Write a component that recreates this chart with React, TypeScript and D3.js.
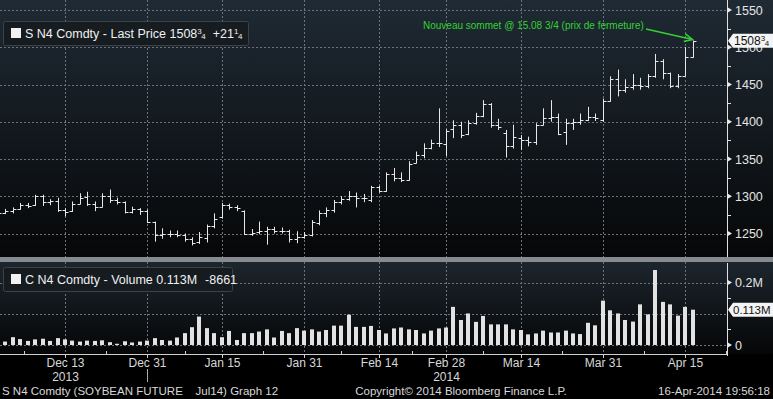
import React, { useRef, useEffect } from "react"
import * as d3 from "d3"

const W = 773
const H = 399

// trading days, Dec 2 2013 -> Apr 16 2014
const dates = [
  "2013-12-02","2013-12-03","2013-12-04","2013-12-05","2013-12-06","2013-12-09","2013-12-10","2013-12-11","2013-12-12","2013-12-13",
  "2013-12-16","2013-12-17","2013-12-18","2013-12-19","2013-12-20","2013-12-23","2013-12-24","2013-12-26","2013-12-27","2013-12-30",
  "2013-12-31","2014-01-02","2014-01-03","2014-01-06","2014-01-07","2014-01-08","2014-01-09","2014-01-10","2014-01-13","2014-01-14",
  "2014-01-15","2014-01-16","2014-01-17","2014-01-21","2014-01-22","2014-01-23","2014-01-24","2014-01-27","2014-01-28","2014-01-29",
  "2014-01-30","2014-01-31","2014-02-03","2014-02-04","2014-02-05","2014-02-06","2014-02-07","2014-02-10","2014-02-11","2014-02-12",
  "2014-02-13","2014-02-14","2014-02-18","2014-02-19","2014-02-20","2014-02-21","2014-02-24","2014-02-25","2014-02-26","2014-02-27",
  "2014-02-28","2014-03-03","2014-03-04","2014-03-05","2014-03-06","2014-03-07","2014-03-10","2014-03-11","2014-03-12","2014-03-13",
  "2014-03-14","2014-03-17","2014-03-18","2014-03-19","2014-03-20","2014-03-21","2014-03-24","2014-03-25","2014-03-26","2014-03-27",
  "2014-03-28","2014-03-31","2014-04-01","2014-04-02","2014-04-03","2014-04-04","2014-04-07","2014-04-08","2014-04-09","2014-04-10",
  "2014-04-11","2014-04-14","2014-04-15","2014-04-16"
]

const open = [
  1281,1278,1280,1283,1288,1288,1300,1292,1294,1281,
  1280,1290,1299,1289,1286,1300,1295,1292,1279,1283,
  1280,1266,1248,1250,1250,1248,1242,1238,1244,1260,
  1272,1288,1285,1280,1250,1252,1254,1256,1254,1253,
  1242,1245,1248,1264,1278,1282,1292,1296,1300,1298,
  1295,1312,1307,1330,1325,1322,1345,1355,1365,1372,
  1370,1390,1396,1384,1398,1408,1424,1396,1385,1368,
  1378,1375,1373,1395,1405,1406,1386,1398,1400,1403,
  1406,1402,1428,1457,1442,1447,1450,1448,1462,1482,
  1465,1448,1462,1487
]
const high = [
  1284,1283,1285,1291,1291,1302,1302,1296,1298,1284,
  1293,1304,1306,1293,1304,1309,1298,1293,1286,1284,
  1282,1266,1257,1254,1254,1250,1245,1252,1262,1277,
  1291,1290,1288,1281,1256,1266,1259,1259,1258,1255,
  1253,1252,1268,1281,1285,1295,1300,1307,1305,1303,
  1314,1314,1332,1338,1332,1347,1360,1371,1376,1418,
  1390,1402,1400,1402,1412,1429,1425,1404,1389,1396,
  1382,1380,1398,1418,1429,1411,1404,1404,1411,1420,
  1411,1431,1461,1470,1457,1464,1459,1464,1491,1484,
  1466,1464,1500,1509
]
const low = [
  1275,1276,1277,1282,1284,1287,1287,1288,1279,1273,
  1279,1289,1287,1280,1285,1291,1289,1277,1277,1275,
  1264,1239,1243,1245,1245,1239,1234,1236,1238,1257,
  1270,1282,1280,1248,1247,1249,1235,1250,1250,1238,
  1237,1243,1246,1261,1272,1278,1289,1294,1285,1292,
  1292,1305,1306,1320,1319,1321,1344,1351,1363,1366,
  1354,1378,1378,1382,1396,1406,1392,1389,1352,1364,
  1362,1367,1369,1395,1400,1382,1369,1389,1396,1401,
  1401,1400,1427,1434,1439,1443,1443,1445,1459,1457,
  1445,1445,1461,1486
]
const close = [
  1278,1280,1283,1288,1287,1300,1292,1294,1281,1279,
  1290,1298,1289,1285,1300,1295,1292,1279,1283,1280,
  1266,1248,1250,1250,1248,1242,1237,1245,1260,1270,
  1288,1285,1284,1250,1251,1254,1256,1254,1253,1242,
  1245,1248,1265,1278,1282,1292,1296,1300,1298,1297,
  1312,1307,1330,1325,1322,1343,1355,1365,1372,1371,
  1388,1396,1382,1398,1408,1424,1396,1393,1368,1380,
  1375,1373,1395,1405,1406,1384,1398,1400,1403,1406,
  1405,1428,1457,1442,1447,1450,1448,1462,1482,1465,
  1448,1462,1487,1508.75
]
// volume, thousands of contracts
const volume = [
  11,11,25,19,13,18,20,13,22,18,
  14,11,14,13,15,9,4,12,8,11,
  14,22,16,14,24,38,57,91,54,38,
  25,45,16,38,38,43,50,24,45,38,
  54,46,50,43,48,62,62,97,58,58,
  61,48,37,53,56,50,48,37,46,53,
  56,122,80,101,74,93,66,66,66,50,
  48,34,37,46,40,40,46,37,35,71,
  63,142,111,101,80,75,130,98,240,138,
  130,94,122,113
]

const priceTicks = [1250, 1300, 1350, 1400, 1450, 1500, 1550]
const priceMinor = [1275, 1325, 1375, 1425, 1475, 1525]
const volTicks = [0, 100, 200]
const volMinor = [50, 150]
const tickDates = ["2013-12-13","2013-12-31","2014-01-15","2014-01-31","2014-02-14","2014-02-28","2014-03-14","2014-03-31","2014-04-15"]
const tickLabels = ["Dec 13","Dec 31","Jan 15","Jan 31","Feb 14","Feb 28","Mar 14","Mar 31","Apr 15"]
const yearLabels = [{ date: "2013-12-13", text: "2013" }, { date: "2014-02-28", text: "2014" }]

const FONT = "'Liberation Sans', Arial, sans-serif"

export default function App() {
  const svgRef = useRef(null)

  useEffect(() => {
    const svg = d3.select(svgRef.current)
    svg.selectAll("*").remove()

    const axisX = 727
    const x = d3.scaleLinear().domain([0, dates.length - 1]).range([-2.2, 692.5])
    const y = d3.scaleLinear().domain([1250, 1550]).range([233.5, 10])
    const yv = d3.scaleLinear().domain([0, 200]).range([345, 282.5])
    const px = (i) => Math.round(x(i)) + 0.5

    const defs = svg.append("defs")
    const g1 = defs.append("linearGradient").attr("id", "pbg").attr("x1", 0).attr("y1", 0).attr("x2", 0).attr("y2", 1)
    g1.append("stop").attr("offset", "0%").attr("stop-color", "#1f2a34")
    g1.append("stop").attr("offset", "100%").attr("stop-color", "#060708")
    const g2 = defs.append("linearGradient").attr("id", "vbg").attr("x1", 0).attr("y1", 0).attr("x2", 0).attr("y2", 1)
    g2.append("stop").attr("offset", "0%").attr("stop-color", "#1d252d")
    g2.append("stop").attr("offset", "100%").attr("stop-color", "#050607")

    svg.append("rect").attr("width", W).attr("height", H).attr("fill", "#000")
    svg.append("rect").attr("x", 0).attr("y", 0).attr("width", W).attr("height", 257).attr("fill", "url(#pbg)")
    svg.append("rect").attr("x", 0).attr("y", 262).attr("width", W).attr("height", 92).attr("fill", "url(#vbg)")
    svg.append("rect").attr("x", 0).attr("y", 257).attr("width", W).attr("height", 5).attr("fill", "#858b91")

    // grid
    const grid = svg.append("g").attr("stroke", "#6c737a").attr("stroke-dasharray", "2,2").attr("stroke-width", 1)
    priceTicks.forEach(t => {
      const yy = Math.round(y(t)) + 0.5
      grid.append("line").attr("x1", 0).attr("x2", axisX).attr("y1", yy).attr("y2", yy)
    })
    volTicks.forEach(t => {
      const yy = Math.round(yv(t)) + 0.5
      grid.append("line").attr("x1", 0).attr("x2", axisX).attr("y1", yy).attr("y2", yy)
    })
    tickDates.forEach(d => {
      const xx = px(dates.indexOf(d))
      grid.append("line").attr("x1", xx).attr("x2", xx).attr("y1", 0).attr("y2", 257)
      grid.append("line").attr("x1", xx).attr("x2", xx).attr("y1", 262).attr("y2", 354)
    })

    // price bars
    const bars = svg.append("g").attr("stroke", "#e8e8e8").attr("stroke-width", 1)
    dates.forEach((d, i) => {
      const xx = px(i)
      bars.append("line").attr("x1", xx).attr("x2", xx).attr("y1", y(high[i])).attr("y2", y(low[i]))
      const yo = Math.round(y(open[i])) + 0.5
      const yc = Math.round(y(close[i])) + 0.5
      bars.append("line").attr("x1", xx - 3).attr("x2", xx).attr("y1", yo).attr("y2", yo)
      bars.append("line").attr("x1", xx).attr("x2", xx + 3).attr("y1", yc).attr("y2", yc)
    })

    // volume bars
    svg.append("g").selectAll("rect").data(volume).enter().append("rect")
      .attr("x", (v, i) => Math.round(x(i)) - 2)
      .attr("width", 4)
      .attr("y", v => yv(v))
      .attr("height", v => yv(0) - yv(v))
      .attr("fill", "#e2e2e2")

    // right axes
    const ax = svg.append("g").attr("stroke", "#e0e0e0")
    ax.append("line").attr("x1", axisX + 0.5).attr("x2", axisX + 0.5).attr("y1", 0).attr("y2", 257)
    ax.append("line").attr("x1", axisX + 0.5).attr("x2", axisX + 0.5).attr("y1", 263).attr("y2", 356)
    priceMinor.forEach(t => {
      const yy = Math.round(y(t)) + 0.5
      ax.append("line").attr("x1", axisX).attr("x2", axisX + 4).attr("y1", yy).attr("y2", yy)
    })
    volMinor.forEach(t => {
      const yy = Math.round(yv(t)) + 0.5
      ax.append("line").attr("x1", axisX).attr("x2", axisX + 4).attr("y1", yy).attr("y2", yy)
    })
    const tri = (yy) => `M${axisX},${yy - 3}L${axisX + 5},${yy}L${axisX},${yy + 3}Z`
    priceTicks.forEach(t => {
      svg.append("path").attr("d", tri(y(t))).attr("fill", "#e8e8e8")
      svg.append("text").attr("x", 735).attr("y", y(t) + 4.5).text(t)
        .attr("fill", "#e4e4e4").attr("font-family", FONT).attr("font-size", 12.5)
    })
    volTicks.filter(t => t !== 100).forEach(t => {
      svg.append("path").attr("d", tri(yv(t))).attr("fill", "#e8e8e8")
      svg.append("text").attr("x", 735).attr("y", yv(t) + 4.5).text(t === 0 ? "0" : (t / 1000) + "M")
        .attr("fill", "#e4e4e4").attr("font-family", FONT).attr("font-size", 12.5)
    })

    // last value flags
    const flag = (yy, w) => `M${axisX + 1},${yy}L${axisX + 6},${yy - 7}L${axisX + 6 + w},${yy - 7}L${axisX + 6 + w},${yy + 7}L${axisX + 6},${yy + 7}Z`
    const ylast = y(close[close.length - 1])
    svg.append("path").attr("d", flag(ylast, 40)).attr("fill", "#f4f4f4")
    const lt = svg.append("text").attr("x", 734).attr("y", ylast + 4.5)
      .attr("fill", "#111").attr("font-family", FONT).attr("font-size", 12)
    lt.append("tspan").text("1508")
    lt.append("tspan").text("3").attr("font-size", 8).attr("dy", -4)
    lt.append("tspan").text("4").attr("font-size", 8).attr("dy", 5).attr("dx", -0.5)
    const yvl = yv(volume[volume.length - 1])
    svg.append("path").attr("d", flag(yvl, 40)).attr("fill", "#f4f4f4")
    svg.append("text").attr("x", 733).attr("y", yvl + 4.5).text("0.113M")
      .attr("fill", "#111").attr("font-family", FONT).attr("font-size", 11.5)

    // bottom axis
    const bx = svg.append("g").attr("stroke", "#cfcfcf")
    bx.append("line").attr("x1", 0).attr("x2", axisX).attr("y1", 354.5).attr("y2", 354.5)
    const tickIdx = tickDates.map(d => dates.indexOf(d))
    tickIdx.forEach((ti, k) => {
      const xx = px(ti)
      bx.append("line").attr("x1", xx).attr("x2", xx).attr("y1", 354).attr("y2", 358)
      const prev = k === 0 ? ti - (tickIdx[1] - tickIdx[0]) : tickIdx[k - 1]
      const mid = Math.round(x((ti + prev) / 2)) + 0.5
      bx.append("line").attr("x1", mid).attr("x2", mid).attr("y1", 351).attr("y2", 354)
      svg.append("text").attr("x", xx).attr("y", 367).attr("text-anchor", "middle").text(tickLabels[k])
        .attr("fill", "#d8d8d8").attr("font-family", FONT).attr("font-size", 12)
    })
    const lastMid = Math.round(x((tickIdx[tickIdx.length - 1] + tickIdx[tickIdx.length - 1] + 11) / 2)) + 0.5
    bx.append("line").attr("x1", lastMid).attr("x2", lastMid).attr("y1", 351).attr("y2", 354)
    yearLabels.forEach(yl => {
      svg.append("text").attr("x", px(dates.indexOf(yl.date))).attr("y", 381).attr("text-anchor", "middle").text(yl.text)
        .attr("fill", "#d8d8d8").attr("font-family", FONT).attr("font-size", 12)
    })
    const yb = px(dates.indexOf("2013-12-31"))
    bx.append("line").attr("x1", yb).attr("x2", yb).attr("y1", 369).attr("y2", 382).attr("stroke", "#aaa")

    // header boxes
    const header = (yTop, w, parts) => {
      svg.append("rect").attr("x", 3.5).attr("y", yTop + 0.5).attr("width", w).attr("height", 24).attr("rx", 2)
        .attr("fill", "rgba(22,27,32,0.92)").attr("stroke", "#3c4248")
      svg.append("rect").attr("x", 11).attr("y", yTop + 7).attr("width", 10).attr("height", 10).attr("fill", "#f2f2f2")
      const t = svg.append("text").attr("x", 25).attr("y", yTop + 17)
        .attr("fill", "#f0f0f0").attr("font-family", FONT).attr("font-size", 12.5)
      parts(t)
    }
    header(21, 245, t => {
      t.append("tspan").text("S N4 Comdty - Last Price 1508")
      t.append("tspan").text("3").attr("font-size", 8).attr("dy", -4)
      t.append("tspan").text("4").attr("font-size", 8).attr("dy", 5).attr("dx", -0.5)
      t.append("tspan").text("+21").attr("dy", -1).attr("dx", 7)
      t.append("tspan").text("1").attr("font-size", 8).attr("dy", -4)
      t.append("tspan").text("4").attr("font-size", 8).attr("dy", 5).attr("dx", -0.5)
    })
    header(267, 229, t => {
      t.append("tspan").text("C N4 Comdty - Volume 0.113M")
      t.append("tspan").text("-8661").attr("dx", 8)
    })

    // annotation
    const green = "#35d035"
    svg.append("text").attr("x", 423).attr("y", 29).text("Nouveau sommet @ 15.08 3/4 (prix de fermeture)")
      .attr("fill", green).attr("font-family", FONT).attr("font-size", 10)
    const tipX = px(dates.length - 1) - 1
    const tipY = y(high[high.length - 1]) - 1
    svg.append("line").attr("x1", 646).attr("y1", 29).attr("x2", tipX).attr("y2", tipY)
      .attr("stroke", green).attr("stroke-width", 1.5)
    const ang = Math.atan2(tipY - 29, tipX - 646)
    const ah = 9
    const a1 = [tipX - ah * Math.cos(ang - 0.45), tipY - ah * Math.sin(ang - 0.45)]
    const a2 = [tipX - ah * Math.cos(ang + 0.45), tipY - ah * Math.sin(ang + 0.45)]
    svg.append("path").attr("d", `M${a1[0]},${a1[1]}L${tipX},${tipY}L${a2[0]},${a2[1]}`)
      .attr("fill", "none").attr("stroke", green).attr("stroke-width", 1.5)

    // footer
    const foot = (xx, anchor, s) => svg.append("text").attr("x", xx).attr("y", 395).attr("text-anchor", anchor).text(s)
      .attr("fill", "#d8d8d8").attr("font-family", FONT).attr("font-size", 11.5).attr("xml:space", "preserve")
    foot(2, "start", "S N4 Comdty (SOYBEAN FUTURE    Jul14) Graph 12")
    foot(461, "middle", "Copyright\u00a9 2014 Bloomberg Finance L.P.")
    foot(770, "end", "16-Apr-2014 19:56:18")
  }, [])

  return (
    <svg ref={svgRef} width={W} height={H}
      style={{ position: "absolute", left: 0, top: 0, display: "block" }}></svg>
  )
}
